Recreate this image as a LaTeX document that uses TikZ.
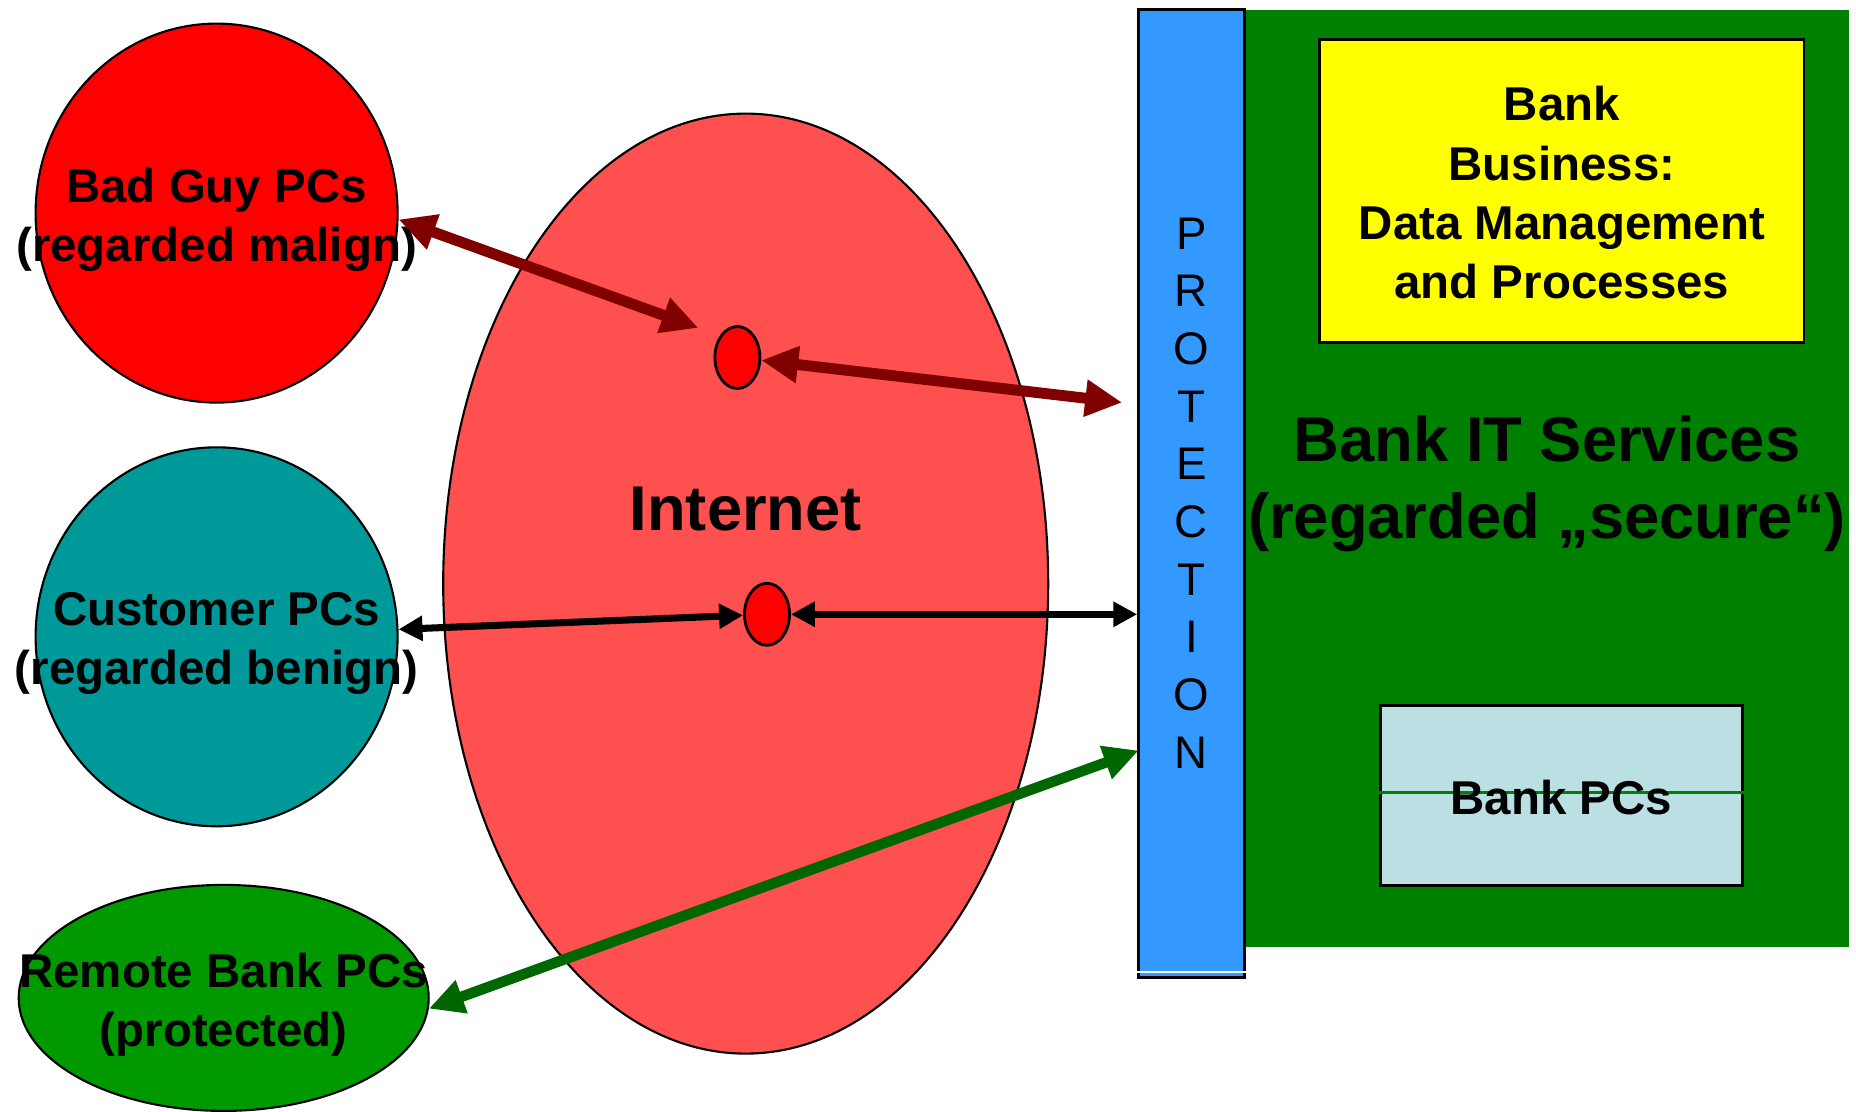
\documentclass[tikz,border=0pt]{standalone}
\usepackage{fontspec}
\setmainfont{Liberation Sans}
\usetikzlibrary{arrows.meta,positioning,shapes.geometric,calc}
\definecolor{netRed}{RGB}{255,80,80}
\definecolor{badRed}{RGB}{255,0,0}
\definecolor{custTeal}{RGB}{0,153,153}
\definecolor{remGreen}{RGB}{0,153,0}
\definecolor{protBlue}{RGB}{51,153,255}
\definecolor{bankGreen}{RGB}{0,128,0}
\definecolor{bizYellow}{RGB}{255,255,0}
\definecolor{pcsCyan}{RGB}{187,224,227}
\definecolor{flowMaroon}{RGB}{128,0,0}
\definecolor{flowGreen}{RGB}{0,102,0}
\tikzset{
  blabel/.style={font=\bfseries\fontsize{13.5}{16.8}\selectfont,
    text=black, align=center, inner sep=0pt},
  btitle/.style={font=\bfseries\fontsize{18}{21.8}\selectfont,
    text=black, align=center, inner sep=0pt},
  host/.style={ellipse, draw=black, line width=.6pt, inner sep=0pt},
  hub/.style={ellipse, draw=black, line width=.8pt, fill=badRed,
    minimum width=.45cm, minimum height=.62cm, inner sep=0pt},
  badflow/.style={{Triangle[length=3.7mm,width=3.5mm]}-{Triangle[length=3.7mm,width=3.5mm]},
    line width=3.1pt, draw=flowMaroon},
  custflow/.style={{Triangle[length=2.4mm,width=2.4mm]}-{Triangle[length=2.4mm,width=2.4mm]},
    line width=2pt, draw=black},
  remflow/.style={{Triangle[length=3.5mm,width=3.3mm]}-{Triangle[length=3.5mm,width=3.3mm]},
    line width=3pt, draw=flowGreen}
}
\begin{document}
\begin{tikzpicture}[
  zone/.style={rectangle, inner sep=0pt, anchor=center},
  boxed/.style={zone, draw=black, line width=.8pt}
]
\path[use as bounding box] (0,0) rectangle (18.56,-11.11);

\node[host, fill=netRed, minimum width=6.05cm, minimum height=9.40cm]
  (net) at (7.457,-5.836) {};
\node[btitle] (netlabel) at (7.457,-5.090) {Internet};

\node[host, fill=badRed, minimum width=3.62cm, minimum height=3.79cm]
  (bad) at (2.166,-2.131) {};
\node[blabel] at ([yshift=-.07cm]bad.center) {Bad Guy PCs\\(regarded malign)};
\node[host, fill=custTeal, minimum width=3.62cm, minimum height=3.79cm]
  (cust) at (2.166,-6.368) {};
\node[blabel] at ([yshift=-.07cm]cust.center) {Customer PCs\\(regarded benign)};
\node[host, fill=remGreen, minimum width=4.10cm, minimum height=2.26cm]
  (remote) at (2.237,-9.979) {};
\node[blabel] at ([yshift=-.07cm]remote.center) {Remote Bank PCs\\(protected)};

\node[hub] (hub1) at (7.374,-3.575) {};
\node[hub] (hub2) at (7.670,-6.143) {};

\node[zone, fill=bankGreen, minimum width=6.048cm, minimum height=9.375cm]
  (bank) at (15.465,-4.783) {};
\node[boxed, fill=protBlue, minimum width=1.054cm, minimum height=9.682cm]
  (prot) at (11.914,-4.936) {};
\draw[white, line width=.5pt] ([yshift=2pt]prot.south west) -- ([yshift=2pt]prot.south east);
\node[font=\fontsize{13}{16.4}\selectfont, align=center, inner sep=0pt]
  (protlabel) at (11.914,-4.930) {P\\R\\O\\T\\E\\C\\T\\I\\O\\N};

\node[boxed, fill=bizYellow, minimum width=4.842cm, minimum height=3.030cm]
  (biz) at (15.619,-1.906) {};
\node[blabel] at ([yshift=-.02cm]biz.center) {Bank\\Business:\\Data Management\\and Processes};
\node[btitle] (banklabel) at (15.471,-4.840)
  {Bank IT Services\\(regarded „secure“)};
\node[boxed, fill=pcsCyan, minimum width=3.622cm, minimum height=1.799cm]
  (pcs) at (15.613,-7.955) {};
\draw[bankGreen, line width=.6pt] ([yshift=.03cm]pcs.west) -- ([yshift=.03cm]pcs.east);
\node[blabel] at ([yshift=-.02cm]pcs.center) {Bank PCs};

\coordinate (badtip) at (6.984,-3.279);
\coordinate (prottip) at (11.222,-4.025);
\coordinate (remin) at (11.387,-7.505);

\draw[badflow] (bad.-2) -- (badtip);
\draw[badflow] (hub1) -- (prottip);
\draw[custflow] (cust) -- (hub2);
\draw[custflow] (hub2.east) -- (hub2.east -| prot.west);
\draw[remflow] (remote.-3) -- (remin);
\end{tikzpicture}
\end{document}
